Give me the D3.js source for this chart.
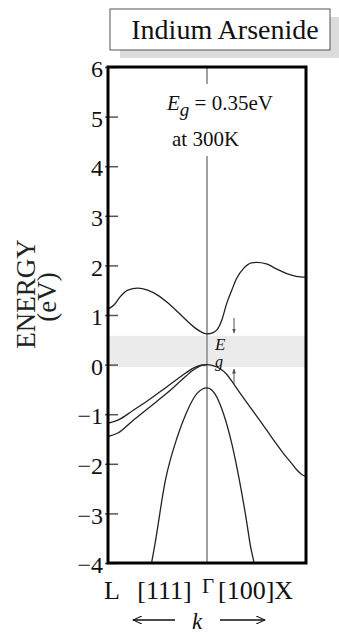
<!DOCTYPE html>
<html><head><meta charset="utf-8">
<script src="https://cdn.jsdelivr.net/npm/d3@7"></script>
<style>
html,body{margin:0;padding:0;background:#fff;}
svg text{font-family:"Liberation Serif","DejaVu Serif",serif !important;}
</style></head>
<body>
<svg id="chart" width="339" height="633"></svg>
<script>
// ---- data ----
const energyTicks = [6,5,4,3,2,1,0,-1,-2,-3,-4];
const tickLabels = ["6","5","4","3","2","1","0","\u22121","\u22122","\u22123","\u22124"];
// k: -1 = L, 0 = Gamma, 1 = X
const cbK = [-1,-0.94,-0.88,-0.8,-0.7,-0.6,-0.5,-0.4,-0.3,-0.2,-0.1,-0.04,0,0.04,0.1,0.15,0.2,0.25,0.3,0.37,0.45,0.5,0.6,0.7,0.8,0.9,1];
const cbE = [1.12,1.2,1.36,1.5,1.54,1.5,1.4,1.25,1.07,0.88,0.71,0.64,0.62,0.63,0.70,0.90,1.24,1.50,1.74,1.94,2.05,2.06,2.03,1.93,1.84,1.78,1.76];
const hhK = [-1,-0.9,-0.744,-0.6,-0.407,-0.25,-0.138,-0.06,0,0.06,0.13,0.2,0.266,0.35,0.434,0.52,0.603,0.69,0.771,0.85,0.906,0.96,1];
const hhE = [-1.18,-1.12,-0.92,-0.73,-0.45,-0.22,-0.07,-0.01,0,-0.02,-0.08,-0.2,-0.38,-0.62,-0.85,-1.09,-1.32,-1.57,-1.79,-1.98,-2.12,-2.22,-2.25];
const lhK = [-1,-0.9,-0.744,-0.6,-0.407,-0.25,-0.138,-0.06,0];
const lhE = [-1.45,-1.38,-1.12,-0.89,-0.58,-0.3,-0.11,-0.02,0];
const soK = [-0.6,-0.56,-0.53,-0.42,-0.3,-0.21,-0.1,0,0.08,0.165,0.25,0.327,0.4,0.44,0.475,0.51];
const soE = [-4.5,-4.0,-3.67,-2.33,-1.46,-0.98,-0.58,-0.47,-0.59,-0.98,-1.59,-2.33,-3.16,-3.67,-4.0,-4.45];
const gapBand = [-0.05, 0.58];
const bandGap = "0.35eV";

const svg = d3.select("#chart");
const x = d3.scaleLinear().domain([-1,1]).range([108,306]);
const y = d3.scaleLinear().domain([-4,6]).range([563,67]);

// title box with shadow
svg.append("rect").attr("x",120).attr("y",17).attr("width",230).attr("height",41).attr("fill","#dcdcdc");
svg.append("rect").attr("x",110).attr("y",9).attr("width",220).attr("height",41).attr("fill","#fff").attr("stroke","#555").attr("stroke-width",1);
svg.append("text").attr("x",225).attr("y",39).attr("text-anchor","middle").attr("font-size",28).attr("fill","#111").text("Indium Arsenide");

// clip
svg.append("clipPath").attr("id","clip").append("rect")
  .attr("x",x(-1)).attr("y",y(6)).attr("width",x(1)-x(-1)).attr("height",y(-4)-y(6));

// gap band
svg.append("rect").attr("x",x(-1)).attr("width",x(1)-x(-1))
  .attr("y",y(gapBand[1])).attr("height",y(gapBand[0])-y(gapBand[1])).attr("fill","#ebebeb");

// Gamma line
svg.append("line").attr("x1",x(0)).attr("x2",x(0)).attr("y1",y(6)).attr("y2",y(-4))
  .attr("stroke","#a0a0a0").attr("stroke-width",2);

// axis ticks + labels
const axis = d3.axisLeft(y).tickValues(energyTicks).tickSizeInner(-10).tickSizeOuter(0).tickPadding(5)
  .tickFormat((d,i)=>tickLabels[i]);
const ag = svg.append("g").attr("transform",`translate(${x(-1)},0)`).call(axis);
ag.select(".domain").remove();
ag.selectAll(".tick line").attr("x1",-3).attr("stroke","#555").attr("stroke-width",1.5);
ag.selectAll(".tick text").attr("font-size",24).attr("fill","#111").attr("dy","0.4em");

// annotation background (gap in Gamma line)
svg.append("rect").attr("x",160).attr("y",84).attr("width",125).attr("height",72).attr("fill","#fff");
const ann = svg.append("text").attr("x",167).attr("y",110).attr("font-size",21).attr("fill","#111");
ann.append("tspan").attr("font-style","italic").text("E");
ann.append("tspan").attr("font-style","italic").attr("font-size",19).attr("dy",6).text("g");
ann.append("tspan").attr("dy",-6).text(" = " + bandGap);
svg.append("text").attr("x",172).attr("y",146).attr("font-size",21).attr("fill","#111").text("at 300K");

// bands
const line = d3.line().x(d=>x(d[0])).y(d=>y(d[1])).curve(d3.curveMonotoneX);
const bands = [d3.zip(cbK,cbE), d3.zip(hhK,hhE), d3.zip(lhK,lhE), d3.zip(soK,soE)];
svg.append("g").attr("clip-path","url(#clip)").selectAll("path").data(bands).join("path")
  .attr("d",line).attr("fill","none").attr("stroke","#222").attr("stroke-width",1.3);

// Eg label and arrows in gap
const eg = svg.append("g").attr("fill","#111").attr("font-style","italic");
eg.append("text").attr("x",x(0)+8).attr("y",350).attr("font-size",17).text("E");
eg.append("text").attr("x",x(0)+8).attr("y",367).attr("font-size",16).text("g");
const defs = svg.append("defs");
defs.append("marker").attr("id","ah").attr("viewBox","0 0 10 10").attr("refX",9).attr("refY",5)
  .attr("markerWidth",5).attr("markerHeight",6).attr("orient","auto")
  .append("path").attr("d","M0,1 L10,5 L0,9 Z").attr("fill","#555");
svg.append("line").attr("x1",234).attr("x2",234).attr("y1",318).attr("y2",333)
  .attr("stroke","#555").attr("stroke-width",1).attr("marker-end","url(#ah)");
svg.append("line").attr("x1",234).attr("x2",234).attr("y1",385).attr("y2",369)
  .attr("stroke","#555").attr("stroke-width",1).attr("marker-end","url(#ah)");

// frame
svg.append("rect").attr("x",x(-1)).attr("y",y(6)).attr("width",x(1)-x(-1)).attr("height",y(-4)-y(6))
  .attr("fill","none").attr("stroke","#000").attr("stroke-width",3);

// y label
const yl = svg.append("g").attr("font-size",27).attr("fill","#222").attr("text-anchor","middle");
yl.append("text").attr("transform","translate(35,294) rotate(-90)").text("ENERGY");
yl.append("text").attr("transform","translate(56,297) rotate(-90)").text("(eV)");

// bottom labels
const bl = svg.append("g").attr("font-size",26).attr("fill","#111");
bl.append("text").attr("x",x(-1)-4).attr("y",599).text("L");
bl.append("text").attr("x",x(-0.43)).attr("y",599).attr("text-anchor","middle").text("[111]");
bl.append("text").attr("x",x(0)+1).attr("y",593).attr("text-anchor","middle").attr("font-size",21).text("\u0393");
bl.append("text").attr("x",x(0)+11).attr("y",599).text("[100]X");
svg.append("text").attr("x",197).attr("y",629).attr("text-anchor","middle").attr("font-size",23).attr("font-style","italic").attr("fill","#111").text("k");
defs.append("marker").attr("id","oa").attr("viewBox","0 0 12 10").attr("refX",11).attr("refY",5)
  .attr("markerWidth",10).attr("markerHeight",8).attr("orient","auto").attr("markerUnits","userSpaceOnUse")
  .append("path").attr("d","M0,0 L11,5 L0,10").attr("fill","none").attr("stroke","#111").attr("stroke-width",1.3);
svg.append("line").attr("x1",175).attr("x2",133).attr("y1",620).attr("y2",620).attr("stroke","#111").attr("stroke-width",1.3).attr("marker-end","url(#oa)");
svg.append("line").attr("x1",220).attr("x2",265).attr("y1",620).attr("y2",620).attr("stroke","#111").attr("stroke-width",1.3).attr("marker-end","url(#oa)");
</script>
</body></html>
